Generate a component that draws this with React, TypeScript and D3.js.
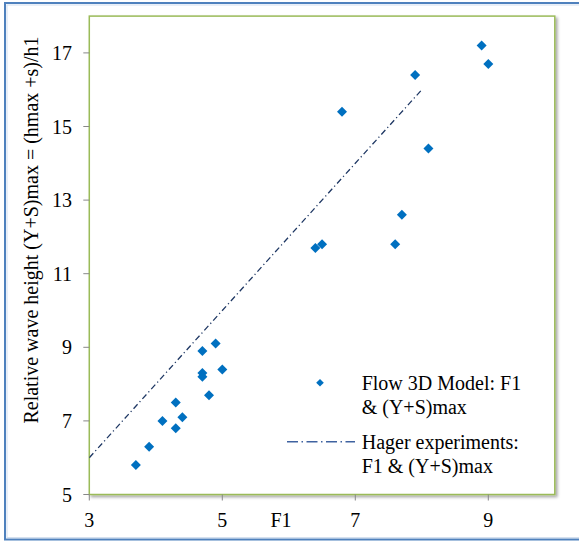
import React from "react";
import * as d3 from "d3";

// Flow 3D model points: F1 and (Y+S)max
const flowF1 = [3.7, 3.9, 4.1, 4.3, 4.3, 4.4, 4.7, 4.7, 4.8, 5.0, 4.7, 4.9, 6.4, 6.5, 7.6, 7.7, 8.1, 6.8, 7.9, 8.9, 9.0];
const flowYS = [5.8, 6.3, 7.0, 6.8, 7.5, 7.1, 8.3, 8.2, 7.7, 8.4, 8.9, 9.1, 11.7, 11.8, 11.8, 12.6, 14.4, 15.4, 16.4, 17.2, 16.7];

// Hager experiments line
const hagerF1 = [3, 4, 5, 6, 7, 8];
const hagerYS = [6, 8, 10, 12, 14, 16];

const xTicks = [3, 5, 7, 9];
const yTicks = [5, 7, 9, 11, 13, 15, 17];

const W = 579;
const H = 542;
const FONT = "Liberation Serif, Times New Roman, Times, DejaVu Serif, serif";

export default function App() {
  const left = 89.3;
  const right = 554.8;
  const bottom = 494.5;
  const unitY = 36.8;
  const x = d3.scaleLinear().domain([3, 10]).range([left, right]);
  const y = d3.scaleLinear().domain([5, 18]).range([bottom, bottom - 13 * unitY]);
  const top = y(18);

  const line = d3
    .line<number>()
    .x((d) => x(d))
    .y((_, i) => y(hagerYS[i]));

  const diamond = (cx: number, cy: number, r: number) =>
    `M${cx},${cy - r}L${cx + r},${cy}L${cx},${cy + r}L${cx - r},${cy}Z`;

  const txt = { fontFamily: FONT, fontSize: "20px", fill: "#000" } as React.CSSProperties;

  return (
    <svg
      width={W}
      height={H}
      style={{ position: "absolute", left: 0, top: 0, background: "#fff" }}
    >
      <defs>
        <filter id="sh" x="-5%" y="-5%" width="115%" height="115%">
          <feDropShadow dx="2" dy="2" stdDeviation="1.5" floodColor="#000" floodOpacity="0.35" />
        </filter>
        <clipPath id="clip">
          <rect x={left} y={top} width={right - left} height={bottom - top} />
        </clipPath>
      </defs>
      {/* outer border */}
      <rect x={5} y={3} width={600} height={536.5} fill="#fff" stroke="#4F81BD" strokeWidth={2} />
      <rect x={7} y={5} width={600} height={532.5} fill="none" stroke="#B8CCE4" strokeWidth={1} opacity={0.6} />

      {/* plot area */}
      <rect
        x={left}
        y={top}
        width={right - left}
        height={bottom - top}
        fill="#fff"
        stroke="#9BBB59"
        strokeWidth={1.5}
        filter="url(#sh)"
      />

      {/* y ticks */}
      {yTicks.map((t) => (
        <g key={"y" + t}>
          <line x1={left - 6} x2={left} y1={y(t)} y2={y(t)} stroke="#888" strokeWidth={1} />
          <text x={72} y={y(t)} textAnchor="end" dominantBaseline="central" style={txt}>
            {t}
          </text>
        </g>
      ))}

      {/* x ticks */}
      {xTicks.map((t) => (
        <g key={"x" + t}>
          <line x1={x(t)} x2={x(t)} y1={bottom} y2={bottom + 6} stroke="#888" strokeWidth={1} />
          <text x={x(t)} y={520} textAnchor="middle" dominantBaseline="central" style={txt}>
            {t}
          </text>
        </g>
      ))}

      <text x={281} y={520} textAnchor="middle" dominantBaseline="central" style={txt}>
        F1
      </text>

      <text
        transform={`translate(31,230) rotate(-90)`}
        textAnchor="middle"
        dominantBaseline="central"
        style={txt}
      >
        Relative wave height (Y+S)max = (hmax +s)/h1
      </text>

      {/* Hager line */}
      <g clipPath="url(#clip)">
        <path
          d={line(hagerF1) || ""}
          fill="none"
          stroke="#1F3864"
          strokeWidth={1.3}
          strokeDasharray="6 3 1.2 3"
        />
      </g>

      {/* Flow 3D points */}
      {flowF1.map((f, i) => (
        <path key={"p" + i} d={diamond(x(f), y(flowYS[i]), 5)} fill="#0070C0" />
      ))}

      {/* legend */}
      <path d={diamond(320, 382.7, 3.8)} fill="#0070C0" />
      <text x={361.7} y={382.7} dominantBaseline="central" style={txt}>
        Flow 3D Model: F1
      </text>
      <text x={361.7} y={407.3} dominantBaseline="central" style={txt}>
        &amp; (Y+S)max
      </text>
      <line x1={287} x2={355} y1={441.7} y2={441.7} stroke="#3F62A0" strokeWidth={1.5} strokeDasharray="11 3.5 1.5 3.5" />
      <text x={361.7} y={441.7} dominantBaseline="central" style={txt}>
        Hager experiments:
      </text>
      <text x={361.7} y={466} dominantBaseline="central" style={txt}>
        F1 &amp; (Y+S)max
      </text>
    </svg>
  );
}
